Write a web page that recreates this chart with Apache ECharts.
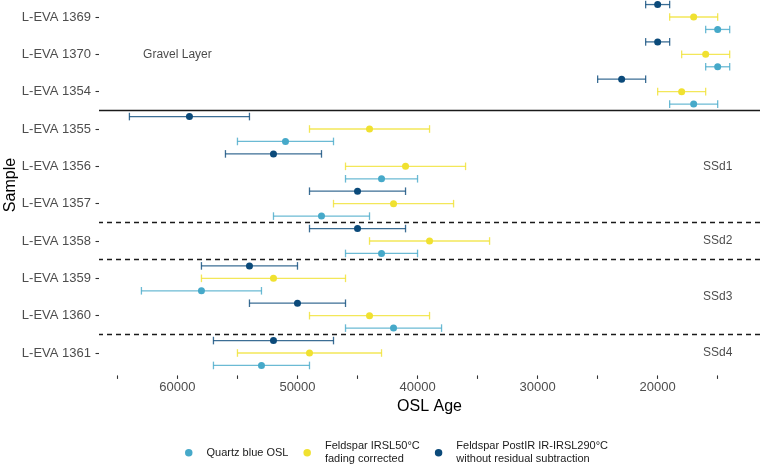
<!DOCTYPE html>
<html><head><meta charset="utf-8">
<script src="https://cdn.jsdelivr.net/npm/echarts@6/dist/echarts.min.js"></script>
<style>html,body{margin:0;padding:0;background:#fff}#c{width:762px;height:467px}</style>
</head><body><div id="c"></div>
<script>
const samples = ['L-EVA 1369','L-EVA 1370','L-EVA 1354','L-EVA 1355','L-EVA 1356','L-EVA 1357','L-EVA 1358','L-EVA 1359','L-EVA 1360','L-EVA 1361'];
const quartzAge = [15000,15000,17000,51000,43000,48000,43000,58000,42000,53000];
const quartzErr = [1000,1000,2000,4000,3000,4000,3000,5000,4000,4000];
const irslAge   = [17000,16000,18000,44000,41000,42000,39000,52000,44000,49000];
const irslErr   = [2000,2000,2000,5000,5000,5000,5000,6000,5000,6000];
const postirAge = [20000,20000,23000,59000,52000,45000,45000,54000,50000,52000];
const postirErr = [1000,1000,2000,5000,4000,4000,4000,4000,4000,5000];
const seriesNames = ['Quartz blue OSL','Feldspar IRSL50°C\nfading corrected','Feldspar PostIR IR-IRSL290°C\nwithout residual subtraction'];
const xLabelTicks = [20000,30000,40000,50000,60000];
const xMinorTicks = [15000,20000,25000,30000,35000,40000,45000,50000,55000,60000,65000];
const solidBoundaries = [2.5];
const dashedBoundaries = [5.5,6.5,8.5];
const annoText = ['Gravel Layer','SSd1','SSd2','SSd3','SSd4'];
const annoX = [60000,15000,15000,15000,15000];
const annoY = [1,4,6,7.5,9];

const colors = ['#46a9c9','#f0e130','#0b4a7a'];
const offsets = [1/3, 0, -1/3];
const groups = [[quartzAge,quartzErr],[irslAge,irslErr],[postirAge,postirErr]];
const FONT = 'Liberation Sans, Arial, sans-serif';

const series = [];
groups.forEach((g,k)=>{
  const errData = samples.map((s,i)=>[g[0][i]-g[1][i], g[0][i]+g[1][i], i+offsets[k]]);
  series.push({
    type:'custom', name:'err'+k, data: errData, silent:true, z:2,
    encode:{x:[0,1], y:2},
    renderItem:(params, api)=>{
      const y = api.value(2);
      const p1 = api.coord([api.value(0), y]);
      const p2 = api.coord([api.value(1), y]);
      const h = 3.8;
      const st = {stroke: colors[k], lineWidth: 1.3, opacity: 0.8};
      return {type:'group', children:[
        {type:'line', shape:{x1:p1[0],y1:p1[1],x2:p2[0],y2:p2[1]}, style:st},
        {type:'line', shape:{x1:p1[0],y1:p1[1]-h,x2:p1[0],y2:p1[1]+h}, style:st},
        {type:'line', shape:{x1:p2[0],y1:p2[1]-h,x2:p2[0],y2:p2[1]+h}, style:st}
      ]};
    }
  });
});
groups.forEach((g,k)=>{
  series.push({
    type:'scatter', name: seriesNames[k], symbol:'circle', symbolSize:7, z:3,
    itemStyle:{color: colors[k], opacity:1},
    data: samples.map((s,i)=>[g[0][i], i+offsets[k]])
  });
});
series.push({
  type:'scatter', name:'anno', symbolSize:0, silent:true, z:4,
  data: annoText.map((t,i)=>({value:[annoX[i], annoY[i]], name:t})),
  label:{show:true, position:'inside', formatter:p=>p.name, color:'#1a1a1a', fontSize:12, fontFamily:FONT},
  markLine:{
    silent:true, symbol:['none','none'], label:{show:false},
    data: solidBoundaries.map(v=>({yAxis:v, lineStyle:{type:'solid', color:'#1a1a1a', width:1.3}}))
      .concat(dashedBoundaries.map(v=>({yAxis:v, lineStyle:{type:[5,4], color:'#1a1a1a', width:1.3}})))
  }
});

const chart = echarts.init(document.getElementById('c'), null, {renderer:'canvas'});
chart.setOption({
  animation:false,
  textStyle:{fontFamily:FONT},
  grid:{left:99, top:-5.4, width:661, height:380.8, containLabel:false, outerBoundsMode:'none'},
  xAxis:{
    type:'value', inverse:true, min:11475, max:66533,
    name:'OSL Age', nameLocation:'middle', nameGap:23, nameMoveOverlap:false,
    nameTextStyle:{color:'#000', fontSize:16, fontFamily:FONT},
    axisLine:{show:false, onZero:false},
    axisTick:{show:true, customValues:xMinorTicks, length:3.5, lineStyle:{color:'#333', width:1.1}},
    axisLabel:{customValues:xLabelTicks, formatter:v=>String(v), color:'#4d4d4d', fontSize:13, margin:6, fontFamily:FONT},
    splitLine:{show:false}
  },
  yAxis:{
    type:'value', inverse:true, min:-0.6, max:9.6,
    name:'Sample', nameLocation:'middle', nameRotate:90, nameGap:80, nameMoveOverlap:false,
    nameTextStyle:{color:'#000', fontSize:16, fontFamily:FONT},
    axisLine:{show:false, onZero:false},
    axisTick:{show:true, customValues:samples.map((s,i)=>i), length:3.5, lineStyle:{color:'#333', width:1.1}},
    axisLabel:{customValues:samples.map((s,i)=>i), formatter:v=>samples[Math.round(v)] || '', color:'#4d4d4d', fontSize:13, margin:8, fontFamily:FONT},
    splitLine:{show:false}
  },
  legend:{
    data: seriesNames, left:180, top:435, orient:'horizontal',
    icon:'circle', itemWidth:7.5, itemHeight:7.5, itemGap:15,
    textStyle:{color:'#1a1a1a', fontSize:11, fontFamily:FONT, lineHeight:12.7, padding:[0,0,0,9]}
  },
  series: series
});
</script></body></html>
